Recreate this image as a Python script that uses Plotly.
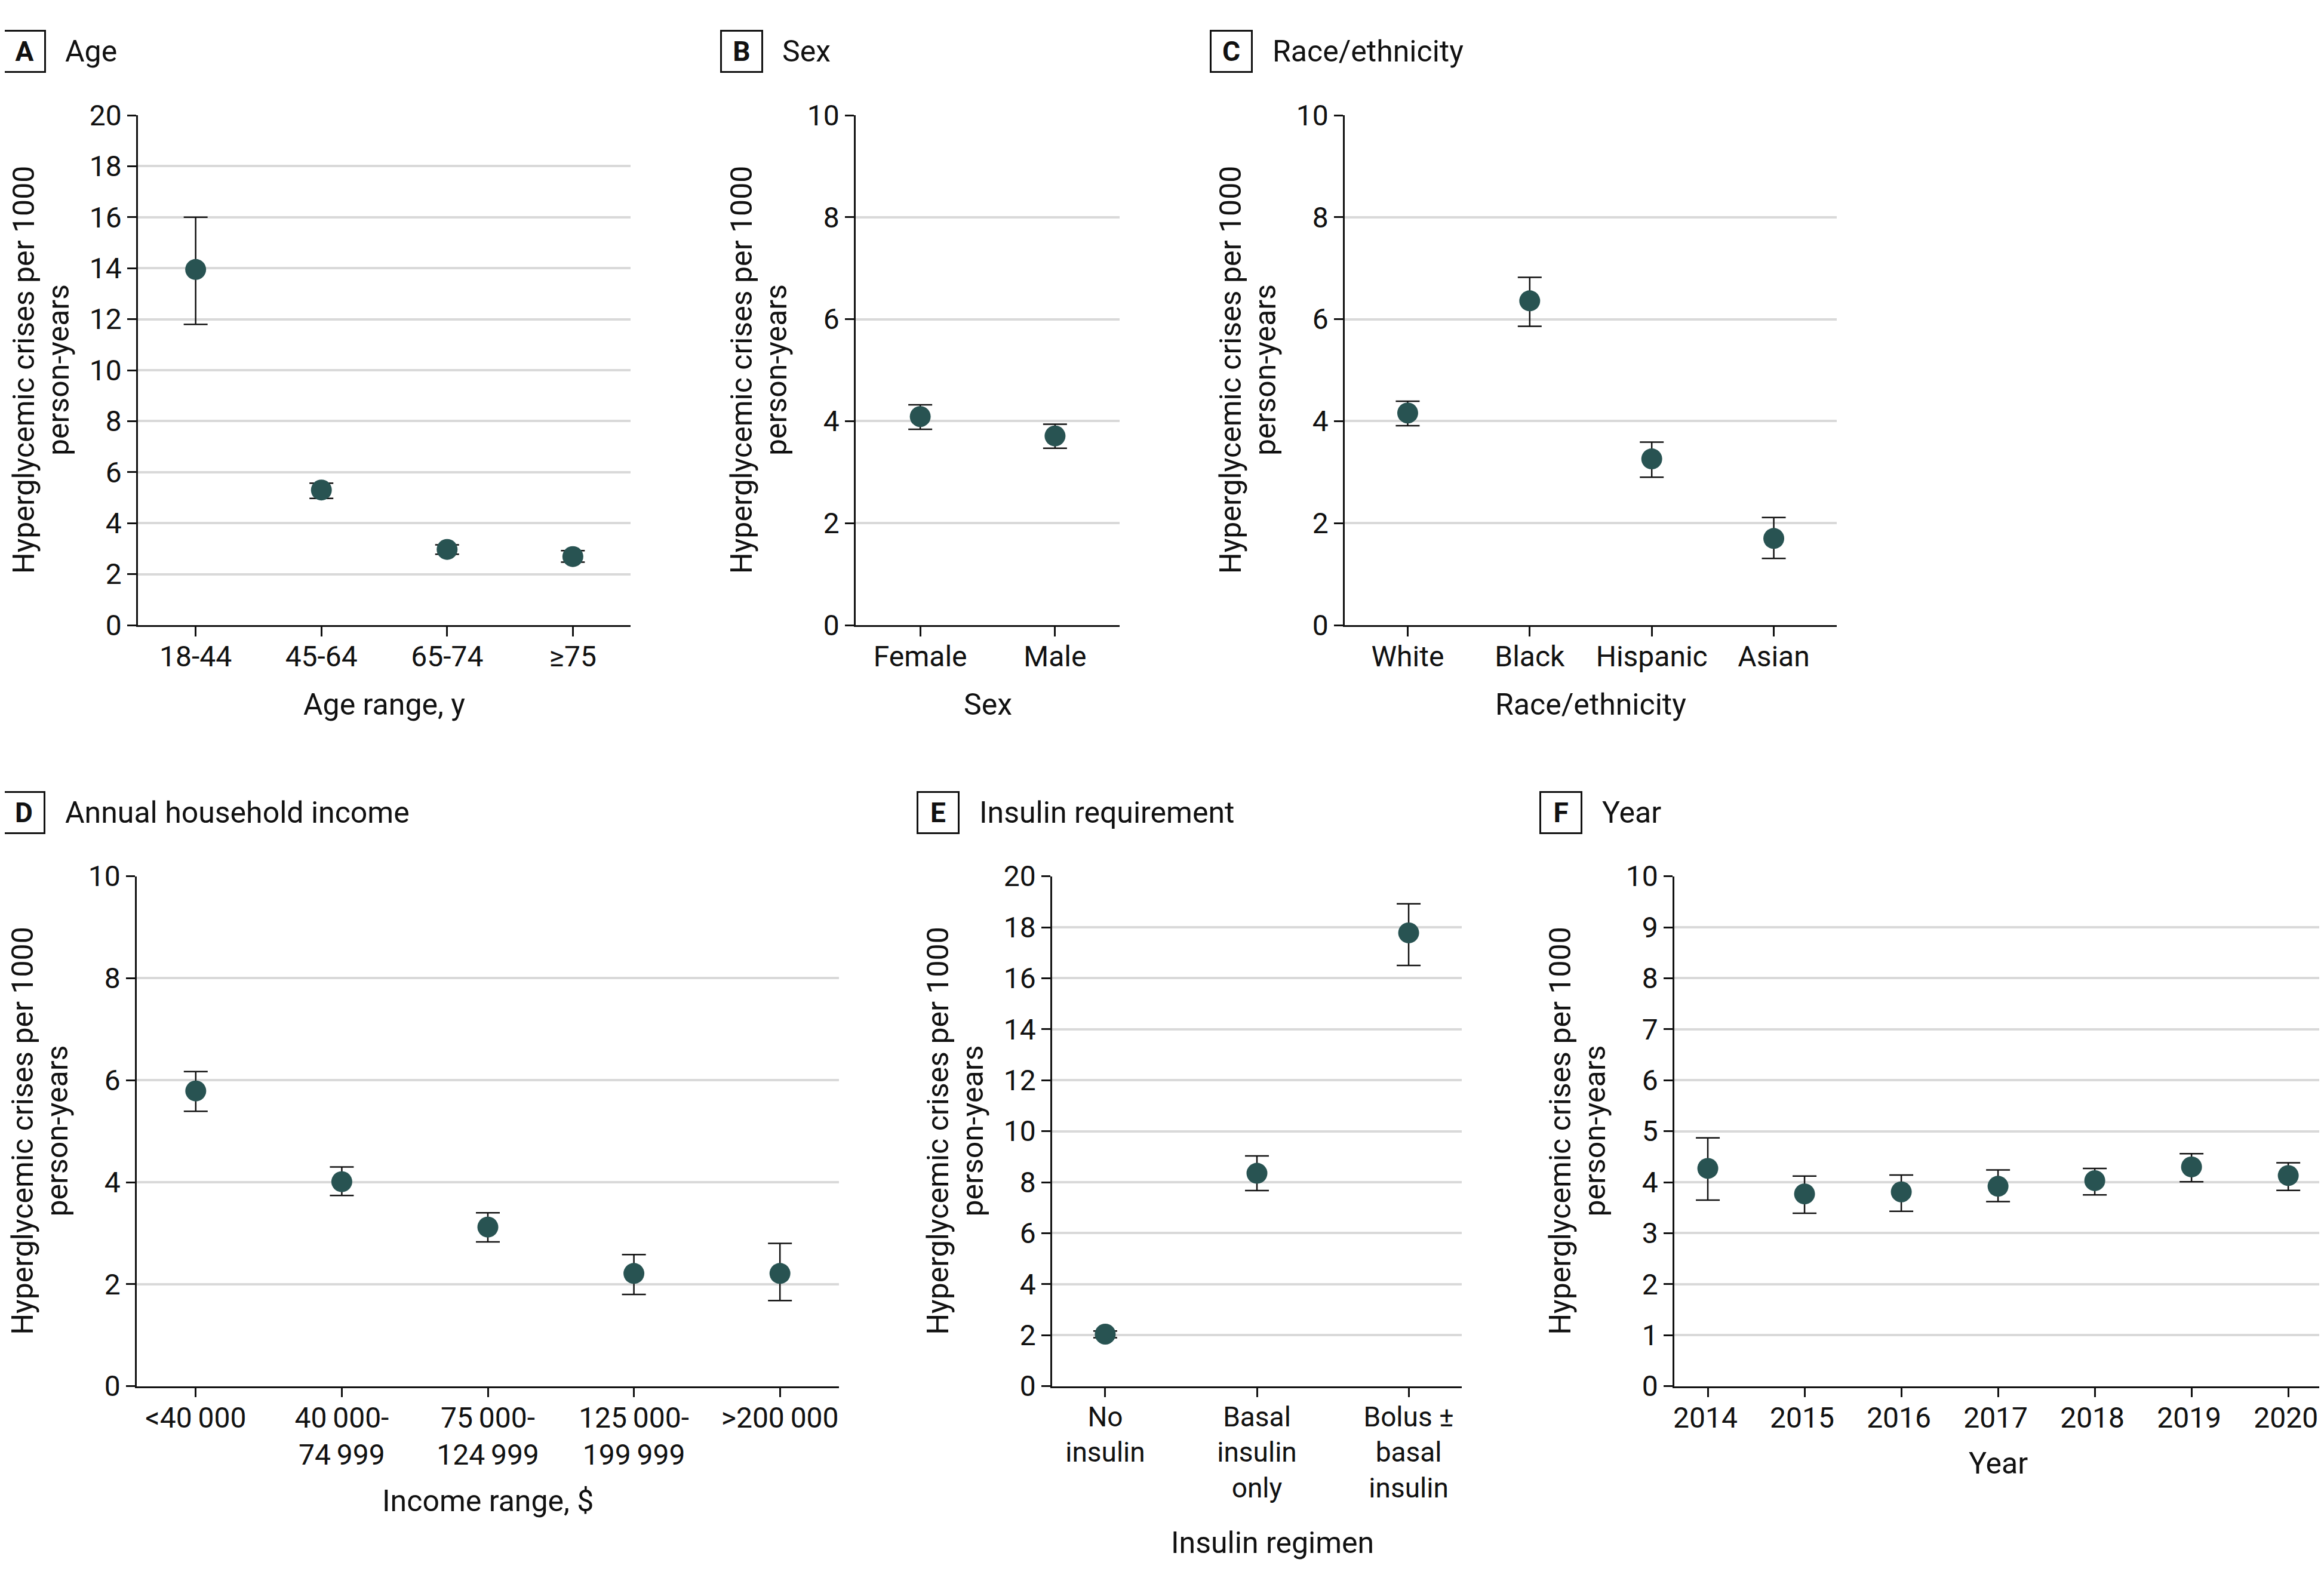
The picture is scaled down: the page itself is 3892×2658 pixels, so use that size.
import plotly.graph_objects as go

# page geometry: the browser body has an 8 px margin, so the figure is
# shrunk by 2*8 px and all reference pixel positions are shifted by -8 px
PAGE_W, PAGE_H = 3892, 2658
OFF = 8
W, H = PAGE_W - 2 * OFF, PAGE_H - 2 * OFF - 4

# ---------------- data ----------------
age_cats = ["18-44", "45-64", "65-74", "≥75"]
age_rate = [13.95, 5.30, 2.97, 2.69]
age_lo = [11.80, 4.97, 2.78, 2.47]
age_hi = [16.00, 5.57, 3.15, 2.92]

sex_cats = ["Female", "Male"]
sex_rate = [4.09, 3.71]
sex_lo = [3.84, 3.47]
sex_hi = [4.32, 3.94]

race_cats = ["White", "Black", "Hispanic", "Asian"]
race_rate = [4.16, 6.36, 3.26, 1.70]
race_lo = [3.91, 5.86, 2.90, 1.31]
race_hi = [4.39, 6.82, 3.59, 2.11]

income_cats = ["<40000", "40000-74999", "75000-124999", "125000-199999", ">200000"]
income_ticks = ["&lt;40\u2009000", "40\u2009000-<br>74\u2009999", "75\u2009000-<br>124\u2009999",
                "125\u2009000-<br>199\u2009999", "&gt;200\u2009000"]
income_rate = [5.79, 4.01, 3.12, 2.21, 2.21]
income_lo = [5.39, 3.74, 2.83, 1.80, 1.68]
income_hi = [6.17, 4.30, 3.40, 2.58, 2.80]

insulin_cats = ["No insulin", "Basal insulin only", "Bolus ± basal insulin"]
insulin_ticks = ["No<br>insulin", "Basal<br>insulin<br>only", "Bolus ±<br>basal<br>insulin"]
insulin_rate = [2.04, 8.35, 17.78]
insulin_lo = [1.90, 7.67, 16.50]
insulin_hi = [2.16, 9.03, 18.92]

years = [2014, 2015, 2016, 2017, 2018, 2019, 2020]
year_rate = [4.27, 3.77, 3.81, 3.92, 4.03, 4.30, 4.13]
year_lo = [3.65, 3.39, 3.43, 3.62, 3.75, 4.01, 3.84]
year_hi = [4.87, 4.12, 4.14, 4.24, 4.27, 4.56, 4.38]

ylabel_lines = ["Hyperglycemic crises per 1000", "person-years"]

# ---------------- style ----------------
FONT = "Roboto"
TXT = "#111111"
MARK = "#285352"
GRID = "#d9d9d9"


def px(x):
    return min(max((x - OFF) / W, 0.0), 1.0)


def py(y):
    return min(max(1 - (y - OFF) / H, 0.0), 1.0)


panels = [
    dict(letter="A", title="Age", x=age_cats, tt=age_cats, r=age_rate, lo=age_lo, hi=age_hi,
         xr=[-0.459, 3.459], ymax=20, dt=2, xt="Age range, y", tfs=48, shift=0,
         box=(231, 1056, 193, 1047), xtpos=(643.5, 1180), tbox=(40.5, 86)),
    dict(letter="B", title="Sex", x=sex_cats, tt=sex_cats, r=sex_rate, lo=sex_lo, hi=sex_hi,
         xr=[-0.479, 1.479], ymax=10, dt=2, xt="Sex", tfs=48, shift=0,
         box=(1433, 1875, 193, 1047), xtpos=(1654, 1180), tbox=(1241.5, 86)),
    dict(letter="C", title="Race/ethnicity", x=race_cats, tt=race_cats, r=race_rate, lo=race_lo, hi=race_hi,
         xr=[-0.516, 3.516], ymax=10, dt=2, xt="Race/ethnicity", tfs=48, shift=0,
         box=(2252, 3076, 193, 1047), xtpos=(2664, 1180), tbox=(2062, 86)),
    dict(letter="D", title="Annual household income", x=income_cats, tt=income_ticks, r=income_rate,
         lo=income_lo, hi=income_hi, xr=[-0.404, 4.404], ymax=10, dt=2, xt="Income range, $", tfs=48, shift=0,
         box=(229, 1405, 1467.6, 2321.6), xtpos=(817, 2514), tbox=(40, 1361)),
    dict(letter="E", title="Insulin requirement", x=insulin_cats, tt=insulin_ticks, r=insulin_rate,
         lo=insulin_lo, hi=insulin_hi, xr=[-0.35, 2.35], ymax=20, dt=2, xt="Insulin regimen", tfs=46, shift=0,
         box=(1762, 2448, 1467.6, 2321.6), xtpos=(2131, 2584), tbox=(1571, 1361)),
    dict(letter="F", title="Year", x=years, tt=[str(y) for y in years], r=year_rate, lo=year_lo, hi=year_hi,
         xr=[2013.654, 2020.32], ymax=10, dt=1, xt="Year", tfs=48, shift=-4,
         box=(2804, 3890, 1467.6, 2321.6), xtpos=(3346, 2451), tbox=(2614, 1361)),
]

fig = go.Figure()
annotations = []
layout_axes = {}

for i, p in enumerate(panels, start=1):
    sfx = "" if i == 1 else str(i)
    xa, ya = "x" + sfx, "y" + sfx
    plus = [h - r for h, r in zip(p["hi"], p["r"])]
    minus = [r - l for r, l in zip(p["r"], p["lo"])]
    fig.add_trace(go.Scatter(
        x=p["x"], y=p["r"], mode="markers", xaxis=xa, yaxis=ya, showlegend=False,
        marker=dict(size=35, color=MARK, line=dict(width=0)),
        error_y=dict(type="data", symmetric=False, array=plus, arrayminus=minus,
                     color=TXT, thickness=2.5, width=20),
    ))
    l, r_, t, b = p["box"]
    layout_axes["xaxis" + sfx] = dict(
        domain=[px(l), px(r_)], anchor=ya, range=p["xr"],
        tickvals=p["x"], ticktext=p["tt"], automargin=False,
        ticklabeloverflow="allow", ticklabelstandoff=-7, ticklabelshift=p["shift"],
        showgrid=False, zeroline=False, showline=True, linecolor=TXT, linewidth=2.5,
        ticks="outside", ticklen=16, tickwidth=2.5, tickcolor=TXT,
        tickfont=dict(family=FONT, size=p["tfs"], color=TXT), fixedrange=True,
    )
    if i != 6:
        layout_axes["xaxis" + sfx]["type"] = "category"
    layout_axes["yaxis" + sfx] = dict(
        domain=[py(b), py(t)], anchor=xa, range=[0, p["ymax"]], automargin=False,
        ticklabeloverflow="allow",
        tick0=0, dtick=p["dt"], showgrid=True, gridcolor=GRID, gridwidth=3.5,
        zeroline=False, showline=True, linecolor=TXT, linewidth=2.5,
        ticks="outside", ticklen=15, tickwidth=2.5, tickcolor=TXT,
        tickfont=dict(family=FONT, size=48, color=TXT), fixedrange=True,
    )
    # y-axis label, two lines placed separately for tighter line spacing
    for k, (line, dx) in enumerate(zip(ylabel_lines, (-191, -133))):
        annotations.append(dict(
            x=px(l + dx), y=py((t + b) / 2), xref="paper", yref="paper",
            text=line, textangle=-90, showarrow=False, xanchor="center", yanchor="middle",
            font=dict(family=FONT, size=50, color=TXT),
        ))
    # x-axis title
    annotations.append(dict(
        x=px(p["xtpos"][0]), y=py(p["xtpos"][1]), xref="paper", yref="paper",
        text=p["xt"], showarrow=False, xanchor="center", yanchor="middle",
        font=dict(family=FONT, size=50, color=TXT),
    ))
    # panel letter box
    bx, by = p["tbox"]
    annotations.append(dict(
        x=px(bx), y=py(by), xref="paper", yref="paper",
        text="<b>" + p["letter"] + "</b>", showarrow=False, xanchor="center", yanchor="middle",
        width=66, height=66, borderpad=0, bordercolor=TXT, borderwidth=3, align="center", valign="middle",
        font=dict(family=FONT, size=46, color=TXT),
    ))
    # panel title
    annotations.append(dict(
        x=px(bx + 36.5 + 30), y=py(by), xref="paper", yref="paper",
        text=p["title"], showarrow=False, xanchor="left", yanchor="middle",
        font=dict(family=FONT, size=50, color=TXT),
    ))

fig.update_layout(
    width=W, height=H, autosize=False,
    margin=dict(l=0, r=0, t=0, b=0, pad=0),
    paper_bgcolor="white", plot_bgcolor="white",
    annotations=annotations,
    **layout_axes,
)

fig.write_html("out.html")
